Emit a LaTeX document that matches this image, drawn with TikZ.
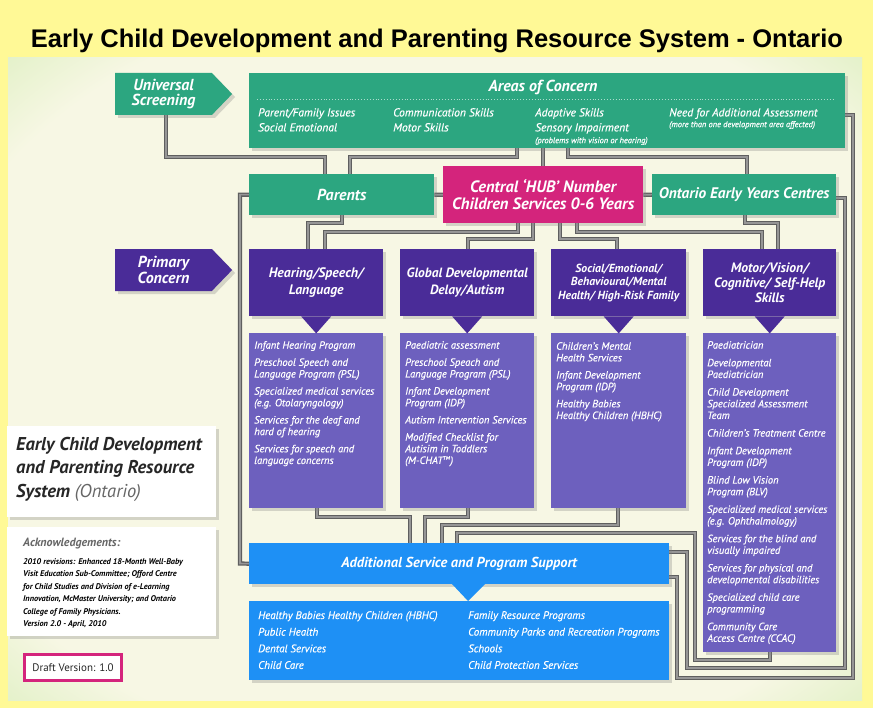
\documentclass[tikz,border=0pt]{standalone}
\usepackage{fontspec}
\setmainfont{PT Sans}
\newfontfamily\semifont{PT Sans}[FakeBold=0.4]
\newfontfamily\titlefont{Liberation Sans}
\usetikzlibrary{shapes.symbols,shadows}

\definecolor{frameyellow}{RGB}{255,249,150}
\definecolor{panelgreen}{RGB}{170,224,122}
\definecolor{panelcream}{RGB}{247,247,228}
\definecolor{tealbox}{RGB}{44,166,128}
\definecolor{hubpink}{RGB}{212,36,124}
\definecolor{hdrpurple}{RGB}{74,44,152}
\definecolor{listpurple}{RGB}{109,96,190}
\definecolor{supblue}{RGB}{30,144,245}
\definecolor{wiredark}{RGB}{95,95,95}
\definecolor{wirelight}{RGB}{150,150,150}

\pgfdeclareradialshading{panelglow}{\pgfpoint{0bp}{0bp}}{color(0bp)=(panelcream); color(30bp)=(panelcream); color(52bp)=(panelgreen); color(72bp)=(panelgreen)}

\pgfdeclarelayer{panel}
\pgfdeclarelayer{wires}
\pgfsetlayers{panel,wires,main}

\tikzset{
  blk/.style={anchor=north west, inner sep=0pt, text=white, align=center,
    font=\bfseries\itshape\fontsize{14}{16}\selectfont,
    drop shadow={opacity=0.3, shadow xshift=3bp, shadow yshift=-3bp}},
  tealblk/.style={blk, fill=tealbox},
  hdrblk/.style={blk, fill=hdrpurple, minimum width=134bp, minimum height=67bp},
  listblk/.style={blk, fill=listpurple, minimum width=134bp},
  listtxt/.style={anchor=north west, inner sep=0pt, text=white, align=left,
    font=\semifont\itshape\fontsize{10.6}{11.7}\selectfont},
  itemtxt/.style={anchor=north west, inner sep=0pt, text=white, align=left,
    font=\semifont\itshape\fontsize{11.6}{15}\selectfont},
  smalltxt/.style={anchor=north west, inner sep=0pt, text=white,
    font=\semifont\itshape\fontsize{8.4}{10}\selectfont},
  arrowblk/.style={blk, anchor=center, shape=signal, signal to=east,
    signal pointer angle=92, minimum width=117bp, minimum height=42bp,
    font=\bfseries\itshape\fontsize{16}{16}\selectfont},
  wire/.style={draw=wiredark, line width=1.3bp, double=wirelight, double distance=1.6bp}
}

\begin{document}
\begin{tikzpicture}[x=1bp,y=-1bp]
\useasboundingbox (0,0) rectangle (873,708);

%BACKGROUND
\begin{pgfonlayer}{panel}
  \fill[frameyellow] (0,0) rectangle (873,708);
  \shade[shading=panelglow] (8,58) rectangle (862,700);
\end{pgfonlayer}

\node[font=\titlefont\bfseries\fontsize{25.6}{30}\selectfont] (title) at (437,41)
  {Early Child Development and Parenting Resource System - Ontario};

%TOP ROW
\node[arrowblk, fill=tealbox] (us) at (163.5,94) {Universal\\Screening};
\node[tealblk, minimum width=596bp, minimum height=75bp] (aoc) at (249,73) {};
\node[text=white, font=\bfseries\itshape\fontsize{16}{18}\selectfont] (aoct) at (543,87) {Areas of Concern};
\draw[white!60!tealbox, dotted, line width=0.9bp] (257,99) -- (834,99);
\node[itemtxt] (ai1) at (258,108) {Parent/Family Issues\\Social Emotional};
\node[itemtxt] (ai2) at (393,108) {Communication Skills\\Motor Skills};
\node[itemtxt] (ai3) at (535,108) {Adaptive Skills\\Sensory Impairment};
\node[smalltxt] (ai3s) at (535,137) {(problems with vision or hearing)};
\node[itemtxt] (ai4) at (669,108) {Need for Additional Assessment};
\node[smalltxt] (ai4s) at (669,121) {(more than one development area affected)};

%SECOND ROW
\node[tealblk, minimum width=185bp, minimum height=41bp,
  font=\bfseries\itshape\fontsize{16}{18}\selectfont] (par) at (249,174) {Parents};
\node[blk, fill=hubpink, minimum width=200bp, minimum height=57bp,
  font=\bfseries\itshape\fontsize{16.5}{17.5}\selectfont] (hub) at (443,166)
  {Central ‘HUB’ Number\\Children Services 0-6 Years};
\node[tealblk, minimum width=184bp, minimum height=41bp,
  font=\bfseries\itshape\fontsize{15.4}{18}\selectfont] (oeyc) at (652,174) {Ontario Early Years Centres};

%PRIMARY CONCERN
\node[arrowblk, fill=hdrpurple] (pc) at (163.5,270) {Primary\\Concern};
\node[hdrblk, font=\bfseries\itshape\fontsize{13.8}{17}\selectfont] (h1) at (249,249) {Hearing/Speech/\\Language};
\node[hdrblk, font=\bfseries\itshape\fontsize{13.5}{17}\selectfont] (h2) at (400,249) {Global Developmental\\Delay/Autism};
\node[hdrblk, minimum width=135bp, font=\bfseries\itshape\fontsize{11.8}{13.5}\selectfont] (h3) at (551,249)
  {Social/Emotional/\\Behavioural/Mental\\Health/ High-Risk Family};
\node[hdrblk, minimum width=133bp, font=\bfseries\itshape\fontsize{13.7}{15.5}\selectfont] (h4) at (703,249)
  {Motor/Vision/\\Cognitive/ Self-Help\\Skills};

\node[listblk, minimum height=175bp] (l1) at (249,333) {};
\node[listblk, minimum height=175bp] (l2) at (400,333) {};
\node[listblk, minimum width=135bp, minimum height=175bp] (l3) at (551,333) {};
\node[listblk, minimum width=133bp, minimum height=319bp] (l4) at (703,333) {};
\foreach \h in {h1,h2,h3,h4}
  \fill[hdrpurple] (\h.south) ++(-15,0) -- ++(30,0) -- ++(-15,17) -- cycle;

\node[listtxt] (l1t) at (254,341) {Infant Hearing Program\\[5.5bp]
  Preschool Speech and\\Language Program (PSL)\\[5.5bp]
  Specialized medical services\\(e.g. Otolaryngology)\\[5.5bp]
  Services for the deaf and\\hard of hearing\\[5.5bp]
  Services for speech and\\language concerns};
\node[listtxt] (l2t) at (405,341) {Paediatric assessment\\[5.5bp]
  Preschool Speach and\\Language Program (PSL)\\[5.5bp]
  Infant Development\\Program (IDP)\\[5.5bp]
  Autism Intervention Services\\[5.5bp]
  Modified Checklist for\\Autisim in Toddlers\\(M-CHAT\textsuperscript{\fontsize{5.5}{5.5}\selectfont TM})};
\node[listtxt] (l3t) at (556,342) {Children’s Mental\\Health Services\\[5.5bp]
  Infant Development\\Program (IDP)\\[5.5bp]
  Healthy Babies\\Healthy Children (HBHC)};
\node[listtxt] (l4t) at (707,341) {Paediatrician\\[6bp]
  Developmental\\Paediatrician\\[6bp]
  Child Development\\Specialized Assessment\\Team\\[6bp]
  Children’s Treatment Centre\\[6bp]
  Infant Development\\Program (IDP)\\[6bp]
  Blind Low Vision\\Program (BLV)\\[6bp]
  Specialized medical services\\(e.g. Ophthalmology)\\[6bp]
  Services for the blind and\\visually impaired\\[6bp]
  Services for physical and\\developmental disabilities\\[6bp]
  Specialized child care\\programming\\[6bp]
  Community Care\\Access Centre (CCAC)};

%ADDITIONAL SUPPORT
\node[blk, fill=supblue, minimum width=420bp, minimum height=41bp,
  font=\bfseries\itshape\fontsize{14.5}{16}\selectfont] (add) at (249,543) {Additional Service and Program Support};
\node[blk, fill=supblue, minimum width=420bp, minimum height=79bp] (addl) at (249,601) {};
\fill[supblue] (452,584) -- (485,584) -- (468,601) -- cycle;
\node[itemtxt, font=\semifont\itshape\fontsize{11}{16.7}\selectfont] (ad1) at (258,611)
  {Healthy Babies Healthy Children (HBHC)\\Public Health\\Dental Services\\Child Care};
\node[itemtxt, font=\semifont\itshape\fontsize{11}{16.7}\selectfont] (ad2) at (468,611)
  {Family Resource Programs\\Community Parks and Recreation Programs\\Schools\\Child Protection Services};

%LEFT PANELS
\node[blk, fill=white, minimum width=209bp, minimum height=91bp] (wb1) at (7,426) {};
\node[anchor=north west, inner sep=0pt, align=left, text=black!85,
  font=\bfseries\itshape\fontsize{18.6}{23.5}\selectfont] (wb1t) at (16,437)
  {Early Child Development\\and Parenting Resource\\System {\mdseries\color{black!60}(Ontario)}};
\node[blk, fill=white, minimum width=209bp, minimum height=109bp] (wb2) at (7,527) {};
\node[anchor=north west, inner sep=0pt, text=black!60,
  font=\bfseries\itshape\fontsize{12}{14}\selectfont] (ackt) at (23,538) {Acknowledgements:};
\node[anchor=north west, inner sep=0pt, align=left, text=black,
  font=\bfseries\itshape\fontsize{8.3}{12.6}\selectfont] (ackb) at (23,558)
  {2010 revisions: Enhanced 18-Month Well-Baby\\Visit Education Sub-Committee; Offord Centre\\
   for Child Studies and Division of e-Learning\\Innovation, McMaster University; and Ontario\\
   College of Family Physicians.\\Version 2.0 - April, 2010};
\node[draw=hubpink, line width=3bp, fill=white, minimum width=97bp, minimum height=26bp,
  inner sep=0pt, text=black!85, font=\fontsize{11}{13}\selectfont] (draft) at (73,667.5) {Draft Version: 1.0};

%CONNECTORS
\begin{pgfonlayer}{wires}
  \draw[wire] (166,0 |- us.south) |- (325,157) -- (325,0 |- par.north);
  \draw[wire] (517,0 |- aoc.south) |- (350,157) -- (350,0 |- par.north);
  \draw[wire] (543,0 |- aoc.south) -- (543,0 |- hub.north);
  \draw[wire] (568,0 |- aoc.south) |- (747,157) -- (747,0 |- oeyc.north);
  \draw[wire] (par.east) -- (hub.west);
  \draw[wire] (hub.east) -- (oeyc.west);
  \draw[wire] (342,0 |- par.south) |- (308,223) -- (308,0 |- h1.north);
  \draw[wire] (518,0 |- hub.south) |- (325,232) -- (325,0 |- h1.north);
  \draw[wire] (533,0 |- hub.south) |- (468,239) -- (468,0 |- h2.north);
  \draw[wire] (560,0 |- hub.south) |- (617,239) -- (617,0 |- h3.north);
  \draw[wire] (577,0 |- hub.south) |- (762,232) -- (762,0 |- h4.north);
  \draw[wire] (745,0 |- oeyc.south) |- (778,223) -- (778,0 |- h4.north);
  \draw[wire] (par.west) -| (240,563.5) -- (add.west);
  \draw[wire] (aoc.east |- 0,115) -| (853,678) -| (677,577) -- (add.east |- 0,577);
  \draw[wire] (oeyc.east |- 0,198) -| (845,668) -| (687,552) -- (add.east |- 0,552);
  \draw[wire] (317,0 |- l1.south) |- (410,517) -- (410,0 |- add.north);
  \draw[wire] (468,0 |- l2.south) |- (425,517) -- (425,0 |- add.north);
  \draw[wire] (618,0 |- l3.south) |- (442,525) -- (442,0 |- add.north);
  \draw[wire] (770,0 |- l4.south) |- (695,660) |- (457,533) -- (457,0 |- add.north);
\end{pgfonlayer}
\end{tikzpicture}
\end{document}
